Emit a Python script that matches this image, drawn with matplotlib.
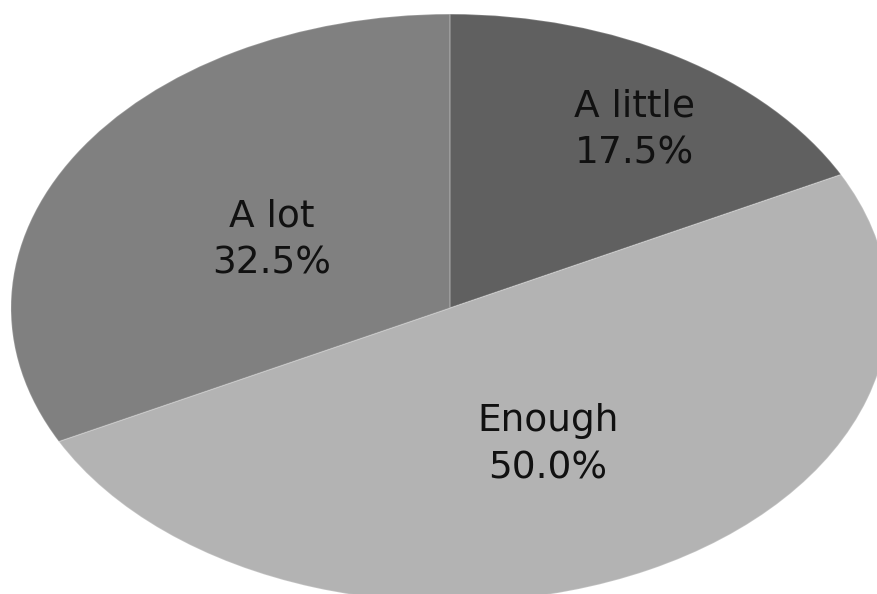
import matplotlib.pyplot as plt

# data
labels = ["A little", "Enough", "A lot"]
values = [17.5, 50.0, 32.5]
colors = ["#606060", "#b3b3b3", "#808080"]

# label anchor points in pie coordinates (Excel-style placement)
label_xy = [(0.421, 0.605), (0.223, -0.466), (-0.405, 0.231)]

fig = plt.figure(figsize=(8.77, 5.94), dpi=100)
ax = fig.add_axes([0, 0, 1, 1])

ax.pie(values, colors=colors, startangle=90, counterclock=False,
       radius=1, wedgeprops=dict(edgecolor=(1, 1, 1, 0.2), linewidth=1.0))

for lab, v, (x, y) in zip(labels, values, label_xy):
    ax.text(x, y, "%s\n%.1f%%" % (lab, v), ha="center", va="center",
            fontsize=27, family="DejaVu Sans", color="#111111",
            linespacing=1.4)

# stretch the pie into the ellipse seen in the picture
ax.set_aspect("auto")
ax.set_xlim(-1.025, 0.973)
ax.set_ylim(-0.973, 1.048)
ax.axis("off")

fig.savefig("out.png", dpi=100)
